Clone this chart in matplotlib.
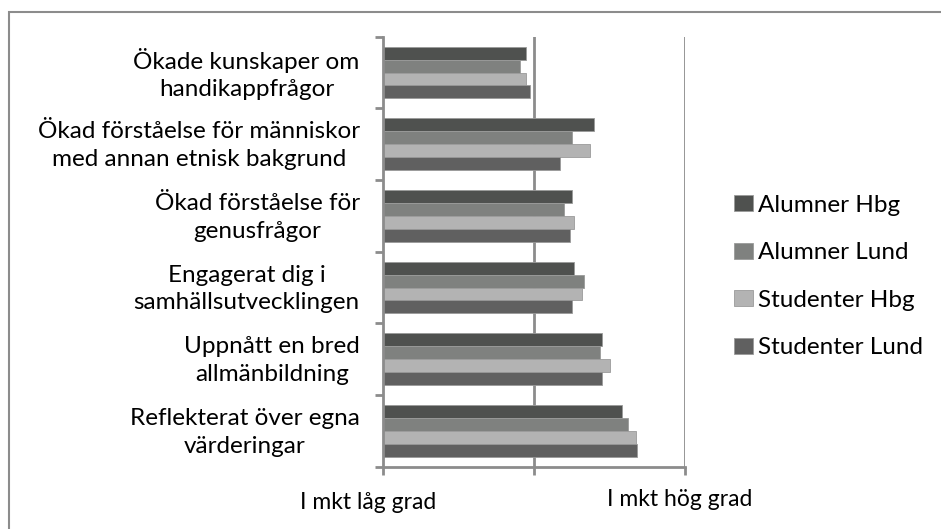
import matplotlib
matplotlib.use("Agg")
import matplotlib.pyplot as plt
import matplotlib.transforms as mtransforms
import numpy as np
from matplotlib.patches import Rectangle

categories = [
    "Ökade kunskaper om\nhandikappfrågor",
    "Ökad förståelse för människor\nmed annan etnisk bakgrund",
    "Ökad förståelse för\ngenusfrågor",
    "Engagerat dig i\nsamhällsutvecklingen",
    "Uppnått en bred\nallmänbildning",
    "Reflekterat över egna\nvärderingar",
]
series_names = ["Alumner Hbg", "Alumner Lund", "Studenter Hbg", "Studenter Lund"]
alumner_hbg = [2.89, 3.79, 3.50, 3.53, 3.90, 4.16]
alumner_lund = [2.81, 3.50, 3.39, 3.66, 3.87, 4.24]
studenter_hbg = [2.89, 3.74, 3.53, 3.63, 4.00, 4.35]
studenter_lund = [2.94, 3.34, 3.47, 3.50, 3.90, 4.37]
tick_values = [1, 3, 5]
tick_labels = ["I mkt låg grad", "", "I mkt hög grad"]

colors = ["#4f514f", "#7f817f", "#b3b3b3", "#606060"]
plt.rcParams['font.family'] = ['Lato', 'DejaVu Sans']

fig = plt.figure(figsize=(9.41, 5.29), dpi=100)
W, H = 941, 529
ax = fig.add_axes([383.3 / W, 1 - 466.7 / H, (685 - 383.3) / W, (466.7 - 36.7) / H])

data = [alumner_hbg, alumner_lund, studenter_hbg, studenter_lund]
n = len(categories)
centers = np.arange(n)[::-1].astype(float)  # top category first
bh = 0.18
base = 1
for i, (vals, name, c) in enumerate(zip(data, series_names, colors)):
    y = centers + (1.5 - i) * bh
    ax.barh(y, np.array(vals) - base, left=base, height=bh, color=c,
            edgecolor="#9a9a9a", linewidth=0.6, label=name, zorder=3)

ax.set_xlim(1, 5)
ax.set_ylim(-0.5, n - 0.5)
ax.set_xticks(tick_values)
ax.set_xticklabels(tick_labels, fontsize=16.5)
ax.set_yticks(centers)
ax.set_yticklabels(categories, fontsize=17.5, ha='right', multialignment='center', linespacing=1.4)
ax.set_yticks(np.arange(n + 1) - 0.5, minor=True)
ax.tick_params(axis='y', which='major', length=0, pad=17)
ax.tick_params(axis='y', which='minor', length=6, width=2, color="#8c8c8c")
ax.tick_params(axis='x', which='major', length=6, width=2, color="#8c8c8c", pad=11)

# small offsets of the labels as in the original
offsets = [(-15, -2), (0, 0), (-5, 1)]
for lab, (dx, dy) in zip(ax.get_xticklabels(), offsets):
    lab.set_transform(lab.get_transform() +
                      mtransforms.ScaledTranslation(dx / 100, dy / 100, fig.dpi_scale_trans))
for lab in ax.get_yticklabels():
    lab.set_transform(lab.get_transform() +
                      mtransforms.ScaledTranslation(0, 4 / 100, fig.dpi_scale_trans))

for x in [3, 5]:
    ax.axvline(x, color="#8c8c8c", linewidth=2, zorder=1)
for s in ["top", "right"]:
    ax.spines[s].set_visible(False)
for s in ["left", "bottom"]:
    ax.spines[s].set_color("#8c8c8c")
    ax.spines[s].set_linewidth(2)
    ax.spines[s].set_zorder(4)

handles, labels = ax.get_legend_handles_labels()
leg = fig.legend(handles, labels, loc='upper left', bbox_to_anchor=(712 / W, 1 - 173 / H),
                 frameon=False, fontsize=17.5, handlelength=0.8, handleheight=0.65,
                 handletextpad=0.2, labelspacing=1.09)

fig.patches.append(Rectangle((8.5 / W, -0.05), 1.2, 1 - 11.5 / H + 0.05,
                             transform=fig.transFigure, fill=False,
                             edgecolor="#8c8c8c", linewidth=1.5))

fig.savefig("out.png", dpi=100)
